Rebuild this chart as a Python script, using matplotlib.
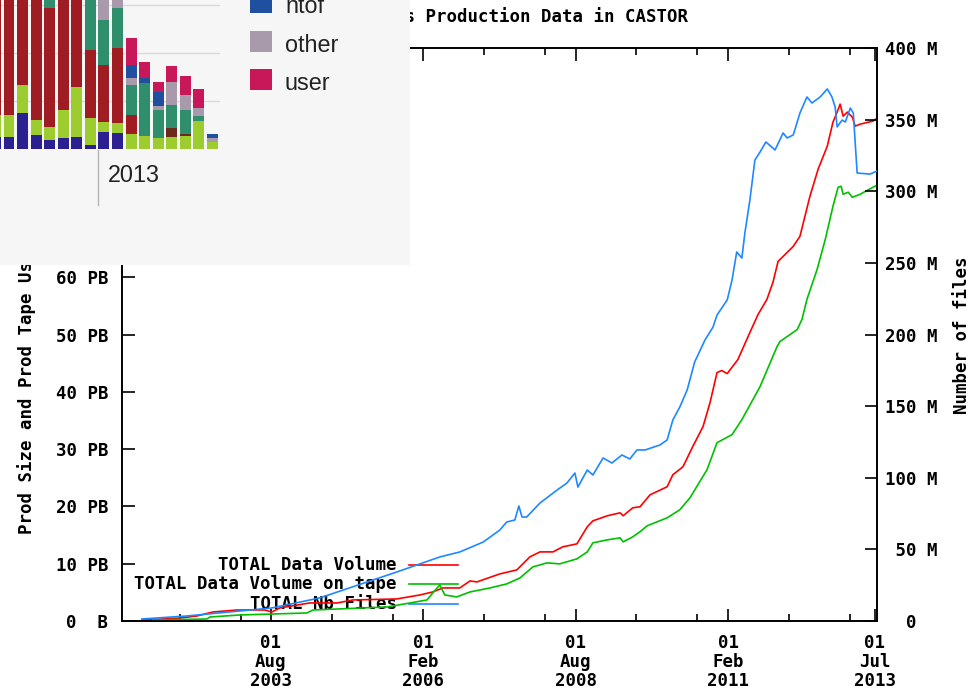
import matplotlib
matplotlib.use("Agg")
import matplotlib.pyplot as plt
import matplotlib.dates as mdates
import pandas as pd
from matplotlib.patches import Rectangle

MONO = "DejaVu Sans Mono"
SANS = "Liberation Sans"
FS = 12.5

# ---------------- main chart text ----------------
title = "Statistics Production Data in CASTOR"
ylabel_left = "Prod Size and Prod Tape Usage in Bytes"
ylabel_right = "Number of files"
legend_labels = ["TOTAL Data Volume", "TOTAL Data Volume on tape", "TOTAL Nb Files"]
legend_colors = ["#ff0000", "#00c000", "#1e88ff"]

# ---------------- main chart data ----------------
vol_dates = ["2001-06-19", "2002-02-03", "2002-05-14", "2002-08-19", "2003-01-10", "2003-06-25",
             "2003-08-07", "2003-09-24", "2004-03-21", "2004-09-01", "2004-12-06", "2005-08-25",
             "2006-01-12", "2006-03-29", "2006-05-28", "2006-09-07", "2006-11-07", "2006-12-19",
             "2007-05-05", "2007-08-15", "2007-11-01", "2008-01-01", "2008-03-19", "2008-05-16",
             "2008-08-09", "2008-10-10", "2008-11-13", "2009-02-07", "2009-04-25", "2009-05-13",
             "2009-07-10", "2009-08-22", "2009-10-22", "2010-02-01", "2010-03-07", "2010-05-07",
             "2010-07-04", "2010-09-04", "2010-10-16", "2010-11-27", "2010-12-25", "2011-01-27",
             "2011-04-01", "2011-06-12", "2011-07-31", "2011-09-22", "2011-10-28", "2011-11-28",
             "2012-02-27", "2012-04-07", "2012-06-06", "2012-07-25", "2012-09-18", "2012-10-22",
             "2012-11-16", "2012-12-04", "2012-12-22", "2013-01-16", "2013-02-15", "2013-03-04",
             "2013-04-03", "2013-06-19", "2013-07-13"]
vol_pb = [0.17, 0.52, 0.87, 1.57, 1.92, 1.92, 1.57, 2.27, 3.15, 3.15, 3.67, 3.85,
          4.55, 5.07, 5.77, 5.77, 6.99, 6.82, 8.22, 8.92, 11.19, 12.06, 12.06, 12.94,
          13.46, 16.43, 17.48, 18.36, 18.88, 18.36, 19.76, 19.93, 22.03, 23.43, 25.52, 26.92,
          30.42, 33.92, 38.11, 43.36, 43.71, 43.18, 45.63, 50.35, 53.50, 56.12, 59.09, 62.76,
          65.38, 67.13, 74.13, 78.85, 82.87, 87.06, 88.81, 90.21, 88.11, 88.81, 87.94, 86.36,
          86.71, 87.24, 87.76]

tape_dates = ["2001-08-23", "2002-07-14", "2002-08-01", "2003-01-28", "2004-03-04", "2004-04-10",
              "2005-06-28", "2005-11-13", "2006-02-22", "2006-03-29", "2006-05-10", "2006-06-09",
              "2006-08-19", "2006-11-07", "2007-03-07", "2007-06-15", "2007-09-03", "2007-11-19",
              "2008-02-12", "2008-04-28", "2008-08-09", "2008-10-10", "2008-11-13", "2009-02-07",
              "2009-04-25", "2009-05-13", "2009-07-10", "2009-08-22", "2009-10-04", "2010-02-01",
              "2010-04-18", "2010-06-18", "2010-07-28", "2010-09-28", "2010-11-27", "2011-02-25",
              "2011-04-25", "2011-08-12", "2011-11-22", "2011-12-10", "2012-03-22", "2012-04-19",
              "2012-05-19", "2012-07-19", "2012-09-06", "2012-10-22", "2012-11-22", "2012-12-10",
              "2012-12-22", "2013-01-22", "2013-02-15", "2013-04-03", "2013-06-19", "2013-07-13"]
tape_pb = [0.17, 0.35, 0.70, 1.05, 1.40, 1.92, 2.45, 3.15, 3.67, 4.90, 6.29, 4.55,
           4.20, 5.07, 5.77, 6.47, 7.52, 9.44, 10.14, 9.97, 10.84, 12.06, 13.64, 14.16,
           14.51, 13.81, 14.69, 15.56, 16.61, 18.01, 19.41, 21.50, 23.43, 26.40, 31.12, 32.52,
           35.14, 40.91, 47.90, 48.78, 50.87, 52.62, 56.12, 61.36, 66.61, 72.38, 75.70, 75.87,
           74.48, 74.83, 73.95, 74.48, 75.70, 76.05]

files_dates = ["2001-06-19", "2002-03-15", "2003-08-07", "2004-05-20", "2005-08-25", "2006-05-10",
               "2006-09-07", "2007-01-25", "2007-05-05", "2007-06-15", "2007-08-03", "2007-08-27",
               "2007-09-15", "2007-10-13", "2008-01-01", "2008-04-12", "2008-06-10", "2008-07-28",
               "2008-08-15", "2008-10-10", "2008-11-13", "2009-01-13", "2009-03-07", "2009-05-06",
               "2009-06-22", "2009-08-04", "2009-09-22", "2009-12-20", "2010-02-01", "2010-03-07",
               "2010-04-18", "2010-06-01", "2010-07-16", "2010-09-16", "2010-11-03", "2010-11-27",
               "2011-01-27", "2011-02-25", "2011-03-25", "2011-04-25", "2011-05-13", "2011-06-12",
               "2011-07-12", "2011-08-12", "2011-09-16", "2011-11-10", "2011-12-28", "2012-01-21",
               "2012-02-27", "2012-04-07", "2012-05-19", "2012-06-18", "2012-08-06", "2012-09-18",
               "2012-10-16", "2012-11-04", "2012-11-16", "2012-12-16", "2013-01-04", "2013-02-03",
               "2013-02-21", "2013-03-04", "2013-03-16", "2013-06-01", "2013-07-13"]
files_m = [1.4, 3.5, 9.1, 16.1, 34.2, 44.7, 48.2, 55.1, 63.5, 69.1, 70.5, 80.3,
           72.6, 72.6, 82.4, 91.4, 96.3, 103.3, 93.5, 105.4, 101.9, 113.8, 110.3, 115.9,
           113.1, 119.4, 119.4, 122.9, 126.4, 140.3, 149.4, 161.3, 180.8, 196.2, 205.2, 213.6,
           224.1, 238.0, 257.6, 253.4, 270.9, 293.9, 321.8, 327.4, 334.4, 328.8, 340.7, 337.2,
           339.3, 354.6, 365.8, 361.6, 365.8, 371.4, 365.8, 358.8, 344.9, 349.7, 348.3, 358.1,
           354.6, 334.4, 312.7, 312.0, 314.1]

left_ticks_pb = [0, 10, 20, 30, 40, 50, 60, 70, 80, 90, 100]
left_tick_labels = ["0  B", "10 PB", "20 PB", "30 PB", "40 PB", "50 PB", "60 PB",
                    "70 PB", "80 PB", "90 PB", "100 PB"]
right_ticks_m = [0, 50, 100, 150, 200, 250, 300, 350, 400]
right_tick_labels = ["  0", " 50 M", "100 M", "150 M", "200 M", "250 M", "300 M", "350 M", "400 M"]
x_major_dates = ["2003-08-01", "2006-02-01", "2008-08-01", "2011-02-01", "2013-07-01"]
x_major_labels = ["01\nAug\n2003", "01\nFeb\n2006", "01\nAug\n2008", "01\nFeb\n2011", "01\nJul\n2013"]
x_minor_dates = ["2002-02-01", "2003-02-01", "2004-08-01", "2005-08-01", "2007-02-01",
                 "2008-02-01", "2009-08-01", "2010-08-01", "2012-02-01", "2013-02-01"]
x_start, x_end = "2001-02-20", "2013-07-13"

# ---------------- inset (stacked bar screenshot) data ----------------
bar_index = list(range(17))
seg_indigo = [25, 25, 75, 29, 19, 23, 25, 8, 35, 33, 0, 0, 0, 0, 0, 0, 0]
seg_lime = [46, 46, 58, 31, 27, 58, 104, 56, 21, 21, 31, 27, 23, 25, 27, 58, 15]
seg_darkred = [271, 271, 208, 281, 248, 260, 208, 142, 119, 156, 40, 0, 0, 0, 0, 0, 0]
seg_brown = [0, 0, 0, 0, 0, 0, 0, 0, 0, 0, 0, 0, 0, 19, 4, 0, 0]
seg_teal = [0, 0, 0, 0, 42, 0, 0, 125, 94, 83, 62, 110, 58, 48, 50, 10, 0]
seg_other = [0, 0, 0, 0, 0, 0, 0, 0, 62, 42, 15, 0, 8, 48, 31, 17, 8]
seg_ntof = [0, 0, 0, 0, 0, 0, 0, 0, 0, 0, 27, 10, 29, 0, 0, 0, 8]
seg_user = [0, 0, 0, 0, 0, 0, 0, 0, 0, 0, 56, 35, 21, 33, 40, 40, 0]
segments = [seg_indigo, seg_lime, seg_darkred, seg_brown, seg_teal, seg_other, seg_ntof, seg_user]
seg_colors = ["#2c1f8f", "#9ccc2e", "#9e1c22", "#6b2a1a", "#2f8f6c", "#a899ab", "#1f4f9f", "#c8185a"]
inset_legend_labels = ["ntof", "other", "user"]
inset_legend_colors = ["#1f4f9f", "#a899ab", "#c8185a"]
inset_year_label = "2013"

W, H = 976, 690
fig = plt.figure(figsize=(W / 100, H / 100), dpi=100)
fig.patch.set_facecolor("white")

# ---------------- main axes ----------------
ax = fig.add_axes([122 / W, 1 - 621 / H, 755 / W, 573 / H])
ax2 = ax.twinx()

ax.plot(pd.to_datetime(vol_dates), vol_pb, color=legend_colors[0], lw=1.2, zorder=3)
ax.plot(pd.to_datetime(tape_dates), tape_pb, color=legend_colors[1], lw=1.2, zorder=3)
ax2.plot(pd.to_datetime(files_dates), files_m, color=legend_colors[2], lw=1.2, zorder=3)

ax.set_xlim(pd.Timestamp(x_start), pd.Timestamp(x_end))
ax.set_ylim(0, 100)
ax2.set_ylim(0, 400)

ax.set_yticks(left_ticks_pb)
ax.set_yticklabels(left_tick_labels)
ax2.set_yticks(right_ticks_m)
ax2.set_yticklabels(right_tick_labels)
ax.set_xticks(mdates.date2num(pd.to_datetime(x_major_dates)))
ax.set_xticklabels(x_major_labels)
ax.set_xticks(mdates.date2num(pd.to_datetime(x_minor_dates)), minor=True)

ax.tick_params(axis="both", which="major", direction="in", length=9, width=1.2,
               labelsize=FS, colors="black")
ax.tick_params(axis="x", which="both", top=True, bottom=True, pad=9)
ax.tick_params(axis="x", which="minor", direction="in", length=5, width=1.2)
ax.tick_params(axis="y", right=False, pad=10)
ax2.tick_params(axis="y", direction="in", length=9, width=1.2, pad=6, labelsize=FS)
for lab in ax.get_xticklabels() + ax.get_yticklabels() + ax2.get_yticklabels():
    lab.set_fontfamily(MONO)
    lab.set_fontweight("bold")
for lab in ax.get_xticklabels():
    lab.set_linespacing(1.1)
for a in (ax, ax2):
    for s in a.spines.values():
        s.set_linewidth(1.2)
        s.set_color("black")

# legend (lines drawn over the texts, like gnuplot)
leg_y = [0.0977, 0.0646, 0.0297]
for lab, col, y in zip(legend_labels, legend_colors, leg_y):
    ax.text(0.3642, y, lab, transform=ax.transAxes, ha="right", va="center",
            fontsize=FS, fontfamily=MONO, fontweight="bold", zorder=1)
    ax.plot([0.380, 0.445], [y, y], transform=ax.transAxes, color=col, lw=1.2, zorder=2)

fig.text(499.5 / W, 1 - 17 / H, title, ha="center", va="center",
         fontsize=FS, fontfamily=MONO, fontweight="bold")
fig.text(27 / W, 1 - 334.5 / H, ylabel_left, rotation=90, ha="center", va="center",
         fontsize=FS, fontfamily=MONO, fontweight="bold")
fig.text(962 / W, 1 - 335 / H, ylabel_right, rotation=90, ha="center", va="center",
         fontsize=FS, fontfamily=MONO, fontweight="bold")

# ---------------- inset screenshot ----------------
bg = fig.add_axes([0, 1 - 265 / H, 410 / W, 265 / H], zorder=10)
bg.set_facecolor("#f6f6f6")
bg.set_xticks([])
bg.set_yticks([])
for s in bg.spines.values():
    s.set_visible(False)
bg.set_xlim(0, 410)
bg.set_ylim(265, 0)

# year tick + label
bg.plot([98, 98], [150, 205], color="#b5b5b5", lw=1.0)
bg.text(108, 182, inset_year_label, va="baseline", ha="left", fontsize=16.8,
        fontfamily=SANS, color="#222222")
# legend
for k, (lab, col) in enumerate(zip(inset_legend_labels, inset_legend_colors)):
    base = 13 + 38.5 * k
    bg.add_patch(Rectangle((250, base - 21), 22, 21, facecolor=col, edgecolor="none"))
    bg.text(285, base, lab, va="baseline", ha="left", fontsize=16.8,
            fontfamily=SANS, color="#222222")

bars = fig.add_axes([0, 1 - 149 / H, 220 / W, 149 / H], zorder=11)
bars.set_facecolor("none")
for s in bars.spines.values():
    s.set_visible(False)
bars.set_xlim(0.337, 16.55)
bars.set_ylim(0, 310.4)
bars.set_yticks([100, 200, 300])
bars.set_xticks([])
bars.tick_params(axis="y", length=0, labelleft=False)
bars.grid(axis="y", color="#d9d9d9", lw=1.0)
bars.set_axisbelow(True)
bottom = [0] * len(bar_index)
for seg, col in zip(segments, seg_colors):
    bars.bar(bar_index, seg, bottom=bottom, width=0.81, color=col, edgecolor="none")
    bottom = [b + v for b, v in zip(bottom, seg)]

fig.savefig("out.png", dpi=100)
